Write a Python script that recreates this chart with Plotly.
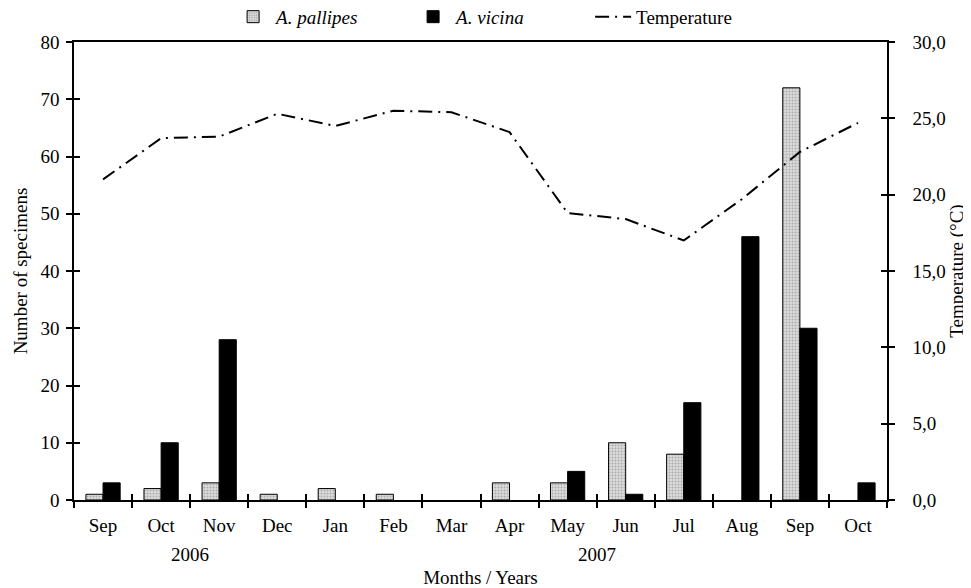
import plotly.graph_objects as go

years = ["2006"] * 4 + ["2007"] * 10
months = ["Sep", "Oct", "Nov", "Dec", "Jan", "Feb", "Mar", "Apr", "May", "Jun", "Jul", "Aug", "Sep", "Oct"]
pallipes = [1, 2, 3, 1, 2, 1, 0, 3, 3, 10, 8, 0, 72, 0]
vicina = [3, 10, 28, 0, 0, 0, 0, 0, 5, 1, 17, 46, 30, 3]
temperature = [21.0, 23.7, 23.8, 25.3, 24.5, 25.5, 25.4, 24.1, 18.8, 18.4, 17.0, 19.7, 22.8, 24.7]

FONT = "Liberation Serif"
FS = 19
idx = list(range(len(months)))


def nz(vals):
    return [v if v else None for v in vals]


fig = go.Figure()
fig.add_trace(go.Bar(
    x=idx, y=nz(pallipes), name="<i>A. pallipes</i>",
    marker=dict(color="#d4d4d4", line=dict(color="black", width=1),
                pattern=dict(shape=".", fgcolor="#7a7a7a", bgcolor="#dcdcdc", size=3, solidity=0.35)),
))
fig.add_trace(go.Bar(
    x=idx, y=nz(vicina), name="<i>A. vicina</i>",
    marker=dict(color="black", line=dict(color="black", width=1)),
))
fig.add_trace(go.Scatter(
    x=idx, y=temperature, name="Temperature", yaxis="y2", mode="lines",
    line=dict(color="black", width=2, dash="14px,6px,2px,6px"),
))
# helper traces so the overlay axes (inner tick halves) are drawn
fig.add_trace(go.Scatter(x=[None], y=[None], xaxis="x2", yaxis="y3", showlegend=False, hoverinfo="skip"))
fig.add_trace(go.Scatter(x=[None], y=[None], xaxis="x2", yaxis="y4", showlegend=False, hoverinfo="skip"))

xr = [-0.5, len(months) - 0.5]
tf = dict(family=FONT, size=FS, color="black")
axis_common = dict(showgrid=False, zeroline=False, showline=True, linecolor="black", linewidth=1.5,
                   tickcolor="black", tickwidth=1.5, tickfont=tf, automargin=False)

# year labels centred under their months
annotations = []
for yr in sorted(set(years)):
    pos = [i for i, y in zip(idx, years) if y == yr]
    annotations.append(dict(x=sum(pos) / len(pos), y=-0.12, xref="x", yref="paper", text=yr,
                            showarrow=False, font=tf, yanchor="middle"))

# the page body adds an 8px offset, so the figure is 8px smaller than the window
fig.update_layout(
    width=963, height=580,
    margin=dict(l=66, r=84, t=34, b=88, autoexpand=False),
    plot_bgcolor="white", paper_bgcolor="white",
    separators=", ",
    font=dict(family=FONT, size=FS, color="black"),
    barmode="group", bargap=0.41, bargroupgap=0,
    showlegend=True,
    legend=dict(orientation="h", x=0.192, xanchor="left", y=1.055, yanchor="middle",
                font=tf, entrywidth=129, entrywidthmode="pixels", itemwidth=36,
                bgcolor="rgba(0,0,0,0)", traceorder="normal"),
    annotations=annotations,
    xaxis=dict(**axis_common, range=xr, tickvals=idx, ticktext=months, ticks="", mirror=True,
               ticklabelstandoff=7,
               minor=dict(tick0=0.5, dtick=1, ticks="outside", ticklen=6, tickcolor="black", tickwidth=1.5),
               title=dict(text="Months / Years", font=tf, standoff=37)),
    xaxis2=dict(showgrid=False, zeroline=False, showline=False, range=xr, overlaying="x",
                tick0=0.5, dtick=1, ticks="inside", ticklen=6, tickcolor="black", tickwidth=1.5,
                showticklabels=False, side="bottom"),
    yaxis=dict(**axis_common, range=[0, 80], dtick=10, ticks="outside", ticklen=6, ticklabelstandoff=3,
               title=dict(text="Number of specimens", font=tf, standoff=8)),
    yaxis2=dict(**axis_common, range=[0, 30], dtick=5, tickformat=".1f", ticks="outside", ticklen=6,
                ticklabelstandoff=14, overlaying="y", side="right",
                title=dict(text="Temperature (°C)", font=tf, standoff=4)),
    yaxis3=dict(showgrid=False, zeroline=False, showline=False, range=[0, 80], dtick=10,
                ticks="inside", ticklen=6, tickcolor="black", tickwidth=1.5, showticklabels=False,
                overlaying="y", side="left", anchor="x"),
    yaxis4=dict(showgrid=False, zeroline=False, showline=False, range=[0, 30], dtick=5,
                ticks="inside", ticklen=6, tickcolor="black", tickwidth=1.5, showticklabels=False,
                overlaying="y", side="right", anchor="x"),
)

fig.write_html("out.html")
